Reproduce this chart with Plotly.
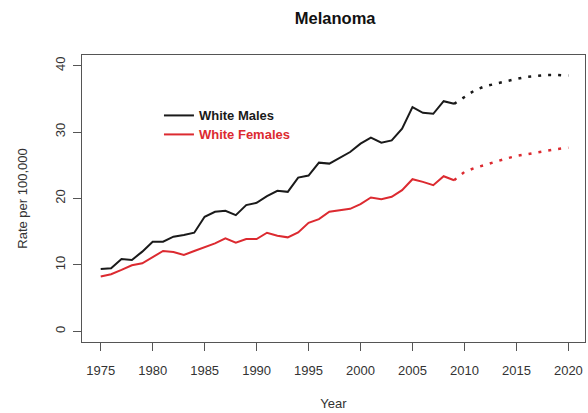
import plotly.graph_objects as go

# Observed incidence, 1975-2009
years = list(range(1975, 2010))
white_males = [9.4, 9.5, 10.9, 10.75, 12.0, 13.5, 13.5, 14.25, 14.5, 14.85,
               17.25, 18.0, 18.15, 17.5, 19.0, 19.35, 20.35, 21.15, 21.0, 23.15,
               23.45, 25.4, 25.25, 26.15, 27.0, 28.25, 29.15, 28.4, 28.75, 30.5,
               33.75, 32.9, 32.75, 34.65, 34.25]
white_females = [8.25, 8.6, 9.25, 9.95, 10.25, 11.15, 12.1, 11.95, 11.5, 12.1,
                 12.7, 13.25, 14.0, 13.35, 13.9, 13.9, 14.85, 14.4, 14.15, 14.9,
                 16.35, 16.9, 18.0, 18.25, 18.45, 19.15, 20.15, 19.9, 20.25, 21.25,
                 22.9, 22.5, 22.0, 23.35, 22.75]

# Projected incidence, 2009-2020
proj_years = list(range(2009, 2021))
proj_males = [34.25, 35.3, 36.3, 36.9, 37.3, 37.7, 38.0, 38.3, 38.5, 38.6, 38.6, 38.5]
proj_females = [22.75, 24.0, 24.6, 25.1, 25.6, 26.0, 26.4, 26.7, 27.0, 27.2, 27.45, 27.65]

x_ticks = list(range(1975, 2021, 5))
y_ticks = [0, 10, 20, 30, 40]

MALE = "#1a1a1a"
FEMALE = "#dc2a30"
AXIS = "#555555"
FONT = "Liberation Sans, Arial, sans-serif"


def legend_label(text, color):
    return "<b><span style='font-size:13px;color:%s'>%s</span></b>" % (color, text)


fig = go.Figure()
fig.add_trace(go.Scatter(x=years, y=white_males, mode="lines",
                         line=dict(color=MALE, width=2),
                         name=legend_label("White Males", MALE)))
fig.add_trace(go.Scatter(x=years, y=white_females, mode="lines",
                         line=dict(color=FEMALE, width=2),
                         name=legend_label("White Females", FEMALE)))
fig.add_trace(go.Scatter(x=proj_years, y=proj_males, mode="lines",
                         line=dict(color=MALE, width=2.5, dash="3px,7px"),
                         showlegend=False))
fig.add_trace(go.Scatter(x=proj_years, y=proj_females, mode="lines",
                         line=dict(color=FEMALE, width=2.5, dash="3px,7px"),
                         showlegend=False))

axis_common = dict(showline=True, mirror=True, linecolor=AXIS, linewidth=1,
                   ticks="outside", ticklen=8, tickcolor=AXIS, tickwidth=1,
                   showgrid=False, zeroline=False,
                   tickfont=dict(family=FONT, size=13, color="#333333"))

fig.update_layout(
    width=588, height=413,
    margin=dict(l=82, r=3, t=55, b=71),
    paper_bgcolor="white", plot_bgcolor="white",
    font=dict(family=FONT, color="#222222"),
    title=dict(text="<b>Melanoma</b>", x=0.57, xanchor="center",
               y=1 - 18 / 413, yanchor="middle",
               font=dict(family=FONT, size=16.5, color="#111111")),
    xaxis=dict(range=[1973.2, 2021.6], tickvals=x_ticks, ticklabelstandoff=8,
               title=dict(text="Year", standoff=22,
                          font=dict(family=FONT, size=13, color="#333333")),
               **axis_common),
    yaxis=dict(range=[-1.6, 41.6], tickvals=y_ticks, tickangle=-90,
               ticklabelstandoff=3,
               title=dict(text="Rate per 100,000", standoff=22,
                          font=dict(family=FONT, size=13, color="#333333")),
               **axis_common),
    legend=dict(x=0.153, y=0.84, xanchor="left", yanchor="top",
                bgcolor="rgba(0,0,0,0)", borderwidth=0,
                font=dict(family=FONT, size=11, color=MALE),
                tracegroupgap=0),
    showlegend=True,
)

fig.write_html("out.html")
